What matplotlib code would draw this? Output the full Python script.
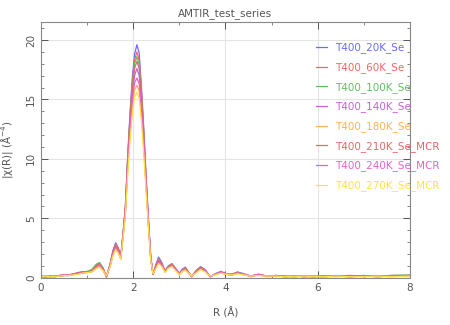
# |chi(R)| series from the AMTIR test run

import matplotlib
matplotlib.use('Agg')
import matplotlib.pyplot as plt
from matplotlib.ticker import MultipleLocator

# R grid (Angstrom)
r = [0, 0.1, 0.2, 0.3, 0.4, 0.5, 0.6, 0.7, 0.8, 0.9, 1.0,
     1.1, 1.2, 1.27, 1.35, 1.42, 1.5, 1.56, 1.62, 1.68, 1.73,
     1.78, 1.83, 1.88, 1.93, 1.98, 2.03, 2.08, 2.13, 2.18, 2.23, 2.28, 2.33, 2.38, 2.43,
     2.49, 2.55, 2.62, 2.69, 2.76, 2.84, 2.92, 3.0, 3.07, 3.13, 3.2, 3.27, 3.36, 3.46, 3.56, 3.67,
     3.78, 3.9, 4.02, 4.14, 4.26, 4.4, 4.55, 4.72, 4.9, 5.1, 5.3, 5.5, 5.7, 5.9, 6.1, 6.4, 6.7,
     7.0, 7.3, 7.6, 8.0]

t20 = [0.15, 0.1, 0.15, 0.1, 0.2, 0.25, 0.2, 0.3, 0.45, 0.5, 0.45,
       0.6, 1.1, 1.25, 0.8, 0.1, 1.2, 2.3, 2.95, 2.5, 1.8,
       3.8, 6.0, 10.2, 13.8, 16.8, 18.8, 19.6, 18.9, 16.0, 12.5, 8.5, 5.0, 1.8, 0.3,
       1.1, 1.75, 1.3, 0.6, 1.0, 1.2, 0.8, 0.4, 0.75, 0.9, 0.5, 0.1, 0.6, 0.95, 0.7, 0.1,
       0.35, 0.55, 0.35, 0.3, 0.5, 0.35, 0.15, 0.3, 0.15, 0.2, 0.15, 0.1, 0.15, 0.1, 0.15, 0.2, 0.15,
       0.2, 0.15, 0.2, 0.2]
t60 = [0.1, 0.15, 0.1, 0.15, 0.2, 0.2, 0.25, 0.35, 0.4, 0.45, 0.5,
       0.6, 1.05, 1.2, 0.75, 0.1, 1.15, 2.2, 2.85, 2.4, 1.75,
       3.7, 5.9, 10.0, 13.5, 16.4, 18.3, 19.0, 18.3, 15.6, 12.2, 8.3, 4.9, 1.8, 0.3,
       1.0, 1.6, 1.2, 0.55, 0.95, 1.15, 0.75, 0.35, 0.7, 0.85, 0.45, 0.1, 0.55, 0.9, 0.65, 0.1,
       0.3, 0.5, 0.35, 0.3, 0.45, 0.3, 0.15, 0.3, 0.15, 0.2, 0.1, 0.15, 0.1, 0.15, 0.1, 0.15, 0.2,
       0.15, 0.2, 0.15, 0.2]
t100 = [0.1, 0.1, 0.15, 0.1, 0.15, 0.2, 0.25, 0.3, 0.4, 0.5, 0.55,
        0.7, 1.15, 1.3, 0.8, 0.05, 1.1, 2.1, 2.75, 2.35, 1.7,
        3.6, 5.8, 9.8, 13.3, 16.1, 18.0, 18.6, 17.9, 15.3, 12.0, 8.2, 4.8, 1.7, 0.3,
        0.95, 1.5, 1.15, 0.55, 0.95, 1.1, 0.75, 0.35, 0.65, 0.8, 0.45, 0.1, 0.5, 0.85, 0.6, 0.1,
        0.3, 0.5, 0.3, 0.25, 0.45, 0.3, 0.15, 0.25, 0.15, 0.15, 0.1, 0.15, 0.1, 0.1, 0.15, 0.15, 0.1,
        0.15, 0.15, 0.2, 0.25]
t140 = [0.1, 0.15, 0.1, 0.1, 0.2, 0.2, 0.2, 0.3, 0.4, 0.45, 0.5,
        0.55, 0.95, 1.1, 0.7, 0.1, 1.05, 2.0, 2.6, 2.2, 1.65,
        3.5, 5.6, 9.4, 12.7, 15.3, 17.0, 17.6, 17.0, 14.6, 11.5, 7.9, 4.6, 1.6, 0.3,
        0.9, 1.4, 1.1, 0.5, 0.9, 1.05, 0.7, 0.3, 0.6, 0.75, 0.4, 0.1, 0.5, 0.8, 0.6, 0.1,
        0.3, 0.45, 0.3, 0.25, 0.4, 0.3, 0.1, 0.25, 0.15, 0.15, 0.1, 0.1, 0.15, 0.1, 0.1, 0.15, 0.1,
        0.15, 0.1, 0.15, 0.15]
t180 = [0.1, 0.1, 0.1, 0.15, 0.15, 0.2, 0.2, 0.25, 0.35, 0.4, 0.45,
        0.5, 0.85, 1.0, 0.65, 0.15, 0.95, 1.9, 2.45, 2.1, 1.6,
        3.4, 5.3, 8.9, 11.9, 14.3, 15.8, 16.2, 15.7, 13.6, 10.8, 7.5, 4.4, 1.6, 0.35,
        0.8, 1.25, 1.0, 0.5, 0.85, 1.0, 0.65, 0.3, 0.55, 0.7, 0.4, 0.15, 0.45, 0.75, 0.55, 0.15,
        0.3, 0.4, 0.3, 0.25, 0.4, 0.25, 0.15, 0.25, 0.1, 0.15, 0.1, 0.15, 0.1, 0.15, 0.1, 0.1, 0.15,
        0.1, 0.15, 0.1, 0.15]
t210 = [0.15, 0.1, 0.1, 0.15, 0.2, 0.25, 0.2, 0.3, 0.4, 0.5, 0.5,
        0.6, 1.0, 1.15, 0.75, 0.1, 1.1, 2.15, 2.8, 2.35, 1.75,
        3.6, 5.8, 9.7, 13.1, 15.8, 17.6, 18.2, 17.6, 15.1, 11.9, 8.1, 4.7, 1.7, 0.3,
        0.95, 1.5, 1.15, 0.55, 0.9, 1.1, 0.75, 0.35, 0.65, 0.8, 0.45, 0.1, 0.55, 0.85, 0.6, 0.1,
        0.3, 0.5, 0.3, 0.3, 0.45, 0.3, 0.15, 0.3, 0.15, 0.2, 0.15, 0.1, 0.15, 0.1, 0.15, 0.15, 0.2,
        0.15, 0.15, 0.2, 0.2]
t240 = [0.1, 0.1, 0.15, 0.1, 0.15, 0.2, 0.25, 0.3, 0.35, 0.4, 0.45,
        0.5, 0.8, 0.95, 0.6, 0.15, 1.0, 1.95, 2.5, 2.15, 1.6,
        3.5, 5.5, 9.2, 12.4, 14.9, 16.4, 16.8, 16.3, 14.0, 11.1, 7.7, 4.5, 1.6, 0.35,
        0.85, 1.3, 1.05, 0.5, 0.85, 1.0, 0.7, 0.3, 0.6, 0.7, 0.4, 0.15, 0.45, 0.75, 0.55, 0.15,
        0.3, 0.45, 0.3, 0.25, 0.4, 0.3, 0.15, 0.25, 0.15, 0.15, 0.1, 0.15, 0.1, 0.15, 0.1, 0.15, 0.1,
        0.15, 0.1, 0.15, 0.15]
t270 = [0.1, 0.15, 0.1, 0.1, 0.15, 0.2, 0.2, 0.25, 0.3, 0.4, 0.45,
        0.5, 0.8, 0.9, 0.6, 0.15, 0.95, 1.85, 2.4, 2.05, 1.55,
        3.3, 5.2, 8.6, 11.5, 13.8, 15.2, 15.6, 15.1, 13.1, 10.4, 7.2, 4.3, 1.5, 0.35,
        0.75, 1.2, 0.95, 0.45, 0.8, 0.95, 0.6, 0.3, 0.55, 0.65, 0.4, 0.15, 0.4, 0.7, 0.5, 0.15,
        0.25, 0.4, 0.3, 0.25, 0.35, 0.25, 0.15, 0.2, 0.15, 0.15, 0.1, 0.1, 0.15, 0.1, 0.1, 0.15, 0.1,
        0.1, 0.15, 0.1, 0.15]

labels = ['T400_20K_Se', 'T400_60K_Se', 'T400_100K_Se', 'T400_140K_Se',
          'T400_180K_Se', 'T400_210K_Se_MCR', 'T400_240K_Se_MCR', 'T400_270K_Se_MCR']
series = [t20, t60, t100, t140, t180, t210, t240, t270]
colors = ['#6b6bff', '#ff6464', '#62c062', '#cc5fdd',
          '#ffb25a', '#e06a6a', '#ee5fcf', '#ffe048']

gray = '#555555'
plt.rcParams['font.family'] = 'DejaVu Sans'

fig = plt.figure(figsize=(4.5, 3.25), dpi=100)
ax = fig.add_axes([0.091, 0.145, 0.82, 0.787])

for vals, lab, c in zip(series, labels, colors):
    ax.plot(r, vals, color=c, lw=0.9, label=lab)

ax.set_xlim(0, 8)
ax.set_ylim(0, 21.5)
ax.xaxis.set_major_locator(MultipleLocator(2))
ax.xaxis.set_minor_locator(MultipleLocator(1))
ax.yaxis.set_major_locator(MultipleLocator(5))
ax.yaxis.set_minor_locator(MultipleLocator(1))
ax.grid(True, which='major', color='#e4e4e4', lw=0.8)
ax.set_axisbelow(True)

ax.tick_params(which='both', direction='in', top=True, right=True,
               colors=gray, labelsize=7.5)
ax.tick_params(which='major', length=5, width=0.7)
ax.tick_params(which='minor', length=2.5, width=0.5)
for lbl in ax.get_yticklabels():
    lbl.set_rotation(90)
    lbl.set_va('center')
for sp in ax.spines.values():
    sp.set_color('#888888')

ax.set_title('AMTIR_test_series', fontsize=7.5, color=gray, pad=4)
ax.set_xlabel('R (Å)', fontsize=7.5, color=gray, labelpad=10)
ax.set_ylabel('|χ(R)| (Å$^{-4}$)', fontsize=7.5, color=gray, labelpad=8)

leg = ax.legend(loc='upper left', bbox_to_anchor=(0.745, 0.92), frameon=False,
                fontsize=7.5, handlelength=1.1, handletextpad=0.7,
                labelspacing=0.84, borderpad=0, borderaxespad=0,
                labelcolor='linecolor')

fig.savefig('out.png', dpi=100)
